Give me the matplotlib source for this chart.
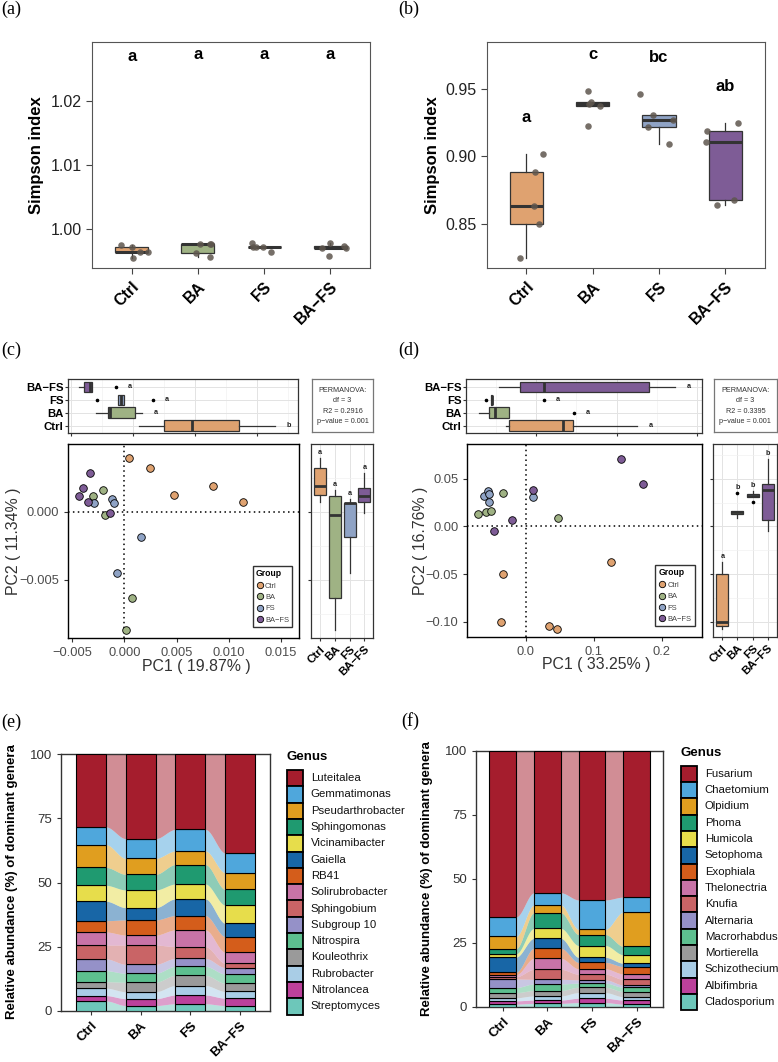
import numpy as np
import matplotlib
matplotlib.use('Agg')
import matplotlib.pyplot as plt
from matplotlib.patches import Rectangle
from matplotlib.lines import Line2D
from matplotlib.ticker import FuncFormatter, MultipleLocator

plt.rcParams['font.family'] = ['Liberation Sans', 'DejaVu Sans']

W, H = 778, 1062
fig = plt.figure(figsize=(W / 100, H / 100), dpi=100)


def rect(l, t, r, b):
    return [l / W, 1 - b / H, (r - l) / W, (b - t) / H]


groups = ['Ctrl', 'BA', 'FS', 'BA−FS']
grp_colors = ['#DFA270', '#9FB284', '#8FA3C5', '#7E5C96']

# ---- (a) / (b) Simpson index, one list per group
simpson_a = [[0.99750, 0.99723, 0.99552, 0.99645, 0.99645],
             [0.99768, 0.99765, 0.99760, 0.99630, 0.99567],
             [0.99776, 0.99723, 0.99722, 0.99645, 0.99720],
             [0.99776, 0.99708, 0.99583, 0.99740, 0.99708]]
jitter_a = [[-0.16, 0.0, 0.015, 0.12, 0.24],
            [0.20, 0.18, 0.03, -0.03, 0.18],
            [-0.18, -0.17, -0.015, 0.11, -0.12],
            [0.0, -0.13, -0.015, 0.20, 0.23]]
letters_a = ['a', 'a', 'a', 'a']

simpson_b = [[0.8247, 0.9017, 0.8881, 0.8629, 0.8500],
             [0.9488, 0.9406, 0.9376, 0.9227, 0.9391],
             [0.9461, 0.9307, 0.9218, 0.9267, 0.9089],
             [0.9188, 0.9104, 0.9245, 0.8639, 0.8676]]
jitter_b = [[-0.09, 0.25, 0.13, 0.12, 0.19],
            [-0.065, -0.03, 0.11, -0.07, -0.05],
            [-0.29, -0.085, -0.16, 0.21, 0.15],
            [-0.28, -0.29, 0.20, -0.12, 0.13]]
letters_b = ['a', 'c', 'bc', 'ab']

# ---- (c) PCoA bacteria
pc1_c = [[0.00046, 0.00245, 0.00854, 0.00476, 0.01142],
         [-0.00204, -0.00300, -0.00188, 0.00069, 0.00014],
         [-0.00124, -0.00104, -0.00290, 0.00156, -0.00072],
         [-0.00332, -0.00402, -0.00435, -0.00348, -0.00139]]
pc2_c = [[0.00399, 0.00320, 0.00189, 0.00123, 0.00074],
         [0.00160, 0.00115, -0.00025, -0.00635, -0.00869],
         [0.00098, 0.00066, 0.00069, -0.00185, -0.00450],
         [0.00283, 0.00179, 0.00120, 0.00076, -0.00007]]
top_letters_c = ['b', 'a', 'a', 'a']
right_letters_c = ['a', 'a', 'a', 'a']
perm_c = ['PERMANOVA:', 'df = 3', 'R2 = 0.2916', 'p−value = 0.001']

# ---- (d) PCoA fungi
pc1_d = [[-0.0332, -0.0370, 0.0332, 0.0458, 0.1253],
         [-0.0332, -0.0706, -0.0589, -0.0512, 0.0472],
         [0.0098, -0.0624, -0.0560, -0.0550, -0.0545],
         [0.1399, 0.1725, 0.0098, -0.0205, -0.0468]]
pc2_d = [[-0.0500, -0.1002, -0.1044, -0.1079, -0.0377],
         [0.0356, 0.0128, 0.0156, 0.0166, 0.0086],
         [0.0314, 0.0324, 0.0374, 0.0342, 0.0261],
         [0.0707, 0.0447, 0.0384, 0.0068, -0.0047]]
top_letters_d = ['a', 'a', 'a', 'a']
right_letters_d = ['a', 'b', 'b', 'b']
perm_d = ['PERMANOVA:', 'df = 3', 'R2 = 0.3395', 'p−value = 0.001']

# ---- (e) / (f) dominant genera (legend order, top of stack first)
genus_colors = ['#A51D2D', '#4FA7DC', '#E09E1F', '#1F9A70', '#E7DD4B', '#1866A6',
                '#D45D1B', '#C873A7', '#C96466', '#9591C8', '#5DBF8F', '#9A9A9A',
                '#A9CDE6', '#BC419B', '#6DC7BA']
bac_genera = ['Luteitalea', 'Gemmatimonas', 'Pseudarthrobacter', 'Sphingomonas',
              'Vicinamibacter', 'Gaiella', 'RB41', 'Solirubrobacter', 'Sphingobium',
              'Subgroup 10', 'Nitrospira', 'Kouleothrix', 'Rubrobacter', 'Nitrolancea',
              'Streptomyces']
bac_ctrl = [28.3, 6.9, 8.9, 7.0, 6.2, 7.6, 4.4, 5.1, 5.4, 4.6, 4.3, 2.5, 2.9, 2.1, 3.8]
bac_ba = [32.9, 7.7, 6.2, 6.1, 6.9, 4.8, 5.9, 3.9, 7.5, 3.5, 3.5, 3.7, 2.7, 2.7, 2.0]
bac_fs = [29.3, 8.4, 5.3, 7.6, 5.8, 6.5, 5.6, 6.5, 4.6, 3.1, 3.5, 4.0, 3.7, 3.4, 2.7]
bac_bafs = [38.5, 7.7, 6.5, 6.1, 7.1, 5.2, 6.1, 4.3, 1.7, 2.5, 3.6, 3.2, 2.6, 2.9, 2.0]

fun_genera = ['Fusarium', 'Chaetomium', 'Olpidium', 'Phoma', 'Humicola', 'Setophoma',
              'Exophiala', 'Thelonectria', 'Knufia', 'Alternaria', 'Macrorhabdus',
              'Mortierella', 'Schizothecium', 'Albifimbria', 'Cladosporium']
fun_ctrl = [64.9, 7.6, 4.8, 2.0, 1.3, 5.9, 1.0, 0.8, 0.9, 3.3, 2.0, 2.0, 1.2, 1.3, 1.0]
fun_ba = [55.5, 4.8, 3.0, 6.1, 3.9, 3.9, 3.9, 4.3, 3.9, 1.8, 2.6, 2.1, 1.6, 1.3, 1.3]
fun_fs = [58.3, 11.5, 2.0, 4.3, 4.6, 2.0, 2.5, 2.1, 2.2, 1.3, 1.6, 2.1, 2.2, 1.7, 1.6]
fun_bafs = [57.2, 5.9, 13.3, 3.3, 3.3, 1.3, 2.9, 2.1, 2.2, 0.9, 1.7, 2.0, 1.3, 1.6, 1.0]

DARK = '#333333'
pos = np.arange(1, 5)


def minus(fmt):
    return FuncFormatter(lambda v, p: (fmt % v).replace('-', '−'))


def simpson_panel(ax, values, jitter, letters, offset, ylim, yticks):
    bp = ax.boxplot(values, positions=pos, widths=0.5, patch_artist=True,
                    showfliers=False, showcaps=False,
                    medianprops=dict(color=DARK, lw=2.2),
                    whiskerprops=dict(color=DARK, lw=0.9),
                    boxprops=dict(edgecolor=DARK, lw=0.9))
    for patch, c in zip(bp['boxes'], grp_colors):
        patch.set_facecolor(c)
    for i, (v, j) in enumerate(zip(values, jitter)):
        ax.scatter(pos[i] + np.array(j), v, s=22, color='#5E564E', alpha=0.85,
                   lw=0, zorder=3)
        ax.text(pos[i], max(v) + offset, letters[i], ha='center', va='center',
                fontsize=12, fontweight='bold')
    ax.set_xlim(0.4, 4.6)
    ax.set_ylim(*ylim)
    ax.set_yticks(yticks)
    ax.yaxis.set_major_formatter(minus('%.2f'))
    ax.set_xticks(pos)
    ax.set_xticklabels(groups, rotation=45, ha='right', va='top',
                       rotation_mode='anchor', fontsize=11.5, fontweight='bold')
    ax.tick_params(axis='y', labelsize=11.5, labelcolor='#222222', length=4,
                   color='#444444', width=0.8)
    ax.tick_params(axis='x', length=4, color='#444444', width=0.8, pad=4)
    for s in ax.spines.values():
        s.set_color('#555555')
        s.set_linewidth(0.8)


ax_a = fig.add_axes(rect(92, 42, 370, 268))
simpson_panel(ax_a, simpson_a, jitter_a, letters_a, 0.0295, (0.9939, 1.0292),
              [1.00, 1.01, 1.02])
ax_b = fig.add_axes(rect(486.7, 42, 765, 268))
simpson_panel(ax_b, simpson_b, jitter_b, letters_b, 0.027, (0.8171, 0.9849),
              [0.85, 0.90, 0.95])
fig.text(36 / W, 1 - 155 / H, 'Simpson index', rotation=90, ha='center',
         va='center', fontsize=12, fontweight='bold')
fig.text(433 / W, 1 - 155 / H, 'Simpson index', rotation=90, ha='center',
         va='center', fontsize=12, fontweight='bold')


def grid_style(ax):
    ax.set_axisbelow(True)
    ax.grid(True, which='major', color='#E3E3E3', lw=0.7)
    ax.grid(True, which='minor', color='#F1F1F1', lw=0.5)
    for s in ax.spines.values():
        s.set_color(DARK)
        s.set_linewidth(0.9)


def box_common(ax, data, orient, width):
    bp = ax.boxplot(data, positions=pos, widths=width, patch_artist=True,
                    orientation=orient, showcaps=False,
                    medianprops=dict(color=DARK, lw=2.0),
                    whiskerprops=dict(color=DARK, lw=0.9),
                    boxprops=dict(edgecolor=DARK, lw=0.9),
                    flierprops=dict(marker='o', markersize=1.6, markerfacecolor='black',
                                    markeredgecolor='black'))
    for patch, c in zip(bp['boxes'], grp_colors):
        patch.set_facecolor(c)


def pcoa_panel(L, pc1, pc2, xlim_top, xticks_top, xlim, xticks, xfmt, ylim, yticks,
               yfmt, top_letters, right_letters, perm, xlab, ylab, xlab_pos, ylab_x):
    # top marginal box
    ax_t = fig.add_axes(rect(*L['top']))
    box_common(ax_t, pc1, 'horizontal', 0.8)
    ax_t.set_xlim(*xlim_top)
    ax_t.set_ylim(0.4, 4.6)
    ax_t.set_xticks(xticks_top)
    step = xticks_top[1] - xticks_top[0]
    ax_t.xaxis.set_minor_locator(MultipleLocator(step / 2))
    ax_t.tick_params(axis='x', which='both', labelbottom=False, length=2, color=DARK)
    ax_t.tick_params(axis='x', which='minor', length=0)
    ax_t.set_yticks(pos)
    ax_t.set_yticklabels(groups, fontsize=8.2, fontweight='bold')
    ax_t.tick_params(axis='y', length=2, pad=1, color=DARK)
    grid_style(ax_t)
    for i, v in enumerate(pc1):
        ax_t.annotate(top_letters[i], (max(v), pos[i]), xytext=(10, 0),
                      textcoords='offset points', ha='center', va='center',
                      fontsize=5.2, fontweight='bold', color='#222222')

    # permanova box
    ax_p = fig.add_axes(rect(*L['perm']))
    ax_p.set_xticks([])
    ax_p.set_yticks([])
    for s in ax_p.spines.values():
        s.set_color('#777777')
        s.set_linewidth(0.9)
    for k, line in enumerate(perm):
        ax_p.text(0.5, 0.79 - k * 0.2, line, ha='center', va='center', fontsize=5.2,
                  color='#333333', transform=ax_p.transAxes)

    # main scatter
    ax = fig.add_axes(rect(*L['main']))
    for i in range(4):
        ax.scatter(pc1[i], pc2[i], s=30, color=grp_colors[i], edgecolor='black',
                   lw=0.6, zorder=3)
    ax.axvline(0, color='black', ls=(0, (1, 2.2)), lw=1.1, zorder=1)
    ax.axhline(0, color='black', ls=(0, (1, 2.2)), lw=1.1, zorder=1)
    ax.set_xlim(*xlim)
    ax.set_ylim(*ylim)
    ax.set_xticks(xticks)
    ax.set_yticks(yticks)
    ax.xaxis.set_major_formatter(minus(xfmt))
    ax.yaxis.set_major_formatter(minus(yfmt))
    ax.tick_params(labelsize=9.3, labelcolor='#4D4D4D', length=3, color=DARK)
    for s in ax.spines.values():
        s.set_color('black')
        s.set_linewidth(1.0)
    handles = [Line2D([], [], marker='o', ls='', markersize=4.6, markerfacecolor=c,
                      markeredgecolor='black', markeredgewidth=0.6)
               for c in grp_colors]
    leg = ax.legend(handles, groups, title='Group', loc='lower right',
                    bbox_to_anchor=(0.97, 0.057), borderaxespad=0, fontsize=5.4,
                    title_fontproperties={'weight': 'bold', 'size': 6.2},
                    frameon=True, fancybox=False, edgecolor='black',
                    labelspacing=0.55, handletextpad=0.2, handlelength=1.0,
                    borderpad=0.45, alignment='left')
    leg.get_frame().set_linewidth(1.0)
    for t in leg.get_texts():
        t.set_color('#444444')
    fig.text(xlab_pos[0] / W, 1 - xlab_pos[1] / H, xlab, ha='center', va='center',
             fontsize=11.4, color='#333333')
    fig.text(ylab_x / W, 1 - ((L['main'][1] + L['main'][3]) / 2) / H, ylab,
             rotation=90, ha='center', va='center', fontsize=11.4, color='#333333')

    # right marginal box
    ax_r = fig.add_axes(rect(*L['right']))
    box_common(ax_r, pc2, 'vertical', 0.8)
    ax_r.set_ylim(*ylim)
    ax_r.set_xlim(0.4, 4.6)
    ax_r.set_yticks(yticks)
    ax_r.tick_params(axis='y', labelleft=False, length=2, color=DARK)
    ax_r.set_xticks(pos)
    ax_r.set_xticklabels(groups, rotation=45, ha='right', va='top',
                         rotation_mode='anchor', fontsize=8.2, fontweight='bold')
    ax_r.tick_params(axis='x', length=2, pad=2, color=DARK)
    ystep = yticks[1] - yticks[0]
    ax_r.yaxis.set_minor_locator(MultipleLocator(ystep / 2))
    ax_r.tick_params(axis='y', which='minor', length=0)
    grid_style(ax_r)
    for i, v in enumerate(pc2):
        ax_r.annotate(right_letters[i], (pos[i], max(v)), xytext=(0, 4),
                      textcoords='offset points', ha='center', va='center',
                      fontsize=5.2, fontweight='bold', color='#222222')


pcoa_panel(dict(top=(67.7, 379, 298.3, 433.3), perm=(311.7, 379, 373.3, 431.7),
                main=(68.3, 444, 299.3, 638.3), right=(311, 444, 373.3, 638.3)),
           pc1_c, pc2_c, (-0.0053, 0.0133), [-0.005, 0.0, 0.005, 0.010],
           (-0.0054, 0.0168), [-0.005, 0.0, 0.005, 0.010, 0.015], '%.3f',
           (-0.0093, 0.0050), [-0.005, 0.0], '%.3f',
           top_letters_c, right_letters_c, perm_c,
           'PC1 ( 19.87% )', 'PC2 ( 11.34% )', (196, 667), 14)

pcoa_panel(dict(top=(466, 379, 701.7, 433.3), perm=(714, 379, 776.7, 431.7),
                main=(467.3, 444, 701.7, 637.3), right=(713.3, 444, 776.7, 637.3)),
           pc1_d, pc2_d, (-0.0872, 0.2056), [0.0, 0.1, 0.2],
           (-0.0863, 0.2584), [0.0, 0.1, 0.2], '%.1f',
           (-0.1166, 0.0868), [-0.10, -0.05, 0.0, 0.05], '%.2f',
           top_letters_d, right_letters_d, perm_d,
           'PC1 ( 33.25% )', 'PC2 ( 16.76% )', (596, 665), 420)


def genus_legend(names, x, y_title, y_top, row=16.3):
    fig.text(x / W, 1 - y_title / H, 'Genus', ha='left', va='center', fontsize=9.5,
             fontweight='bold')
    for k, (n, c) in enumerate(zip(names, genus_colors)):
        top = y_top + k * row
        fig.add_artist(Rectangle(((x + 0.7) / W, 1 - (top + row) / H), 15.4 / W,
                                 row / H, transform=fig.transFigure, facecolor=c,
                                 edgecolor='black', lw=1.3))
        fig.text((x + 24) / W, 1 - (top + row / 2) / H, n, ha='left', va='center',
                 fontsize=8.2, color='#111111')


def alluvial(ax, table):
    vals = np.array(table, dtype=float).T[::-1]      # genus x group, bottom first
    cols = genus_colors[::-1]
    tops = np.cumsum(vals, axis=0)
    bottoms = tops - vals
    w = 0.6
    t = np.linspace(0, 1, 80)
    s = t * t * (3 - 2 * t)
    for k in range(vals.shape[0]):
        for i in range(3):
            x0, x1 = pos[i] + w / 2, pos[i + 1] - w / 2
            xs = x0 + (x1 - x0) * t
            lo = bottoms[k, i] + (bottoms[k, i + 1] - bottoms[k, i]) * s
            hi = tops[k, i] + (tops[k, i + 1] - tops[k, i]) * s
            ax.fill_between(xs, lo, hi, color=cols[k], alpha=0.5, lw=0)
        ax.bar(pos, vals[k], bottom=bottoms[k], width=w, color=cols[k],
               edgecolor='black', lw=0.8, zorder=3)
    ax.set_xlim(0.4, 4.6)
    ax.set_ylim(0, 100)
    ax.set_yticks([0, 25, 50, 75, 100])
    ax.tick_params(axis='y', labelsize=9.5, labelcolor='#333333', length=3, color=DARK)
    ax.set_xticks(pos)
    ax.set_xticklabels(groups, rotation=45, ha='right', va='top',
                       rotation_mode='anchor', fontsize=9.5, fontweight='bold')
    ax.tick_params(axis='x', length=3, color=DARK)
    for sp in ax.spines.values():
        sp.set_color(DARK)
        sp.set_linewidth(1.0)


ax_e = fig.add_axes(rect(61, 754.3, 270, 1010.7))
alluvial(ax_e, [bac_ctrl, bac_ba, bac_fs, bac_bafs])
genus_legend(bac_genera, 286.7, 757.3, 770)
ax_f = fig.add_axes(rect(476, 750.7, 663.3, 1006.7))
alluvial(ax_f, [fun_ctrl, fun_ba, fun_fs, fun_bafs])
genus_legend(fun_genera, 680.7, 753.3, 765.7)
ylab = 'Relative abundance (%) of dominant genera'
fig.text(12.5 / W, 1 - 882 / H, ylab, rotation=90, ha='center', va='center',
         fontsize=9.5, fontweight='bold')
fig.text(426.7 / W, 1 - 879 / H, ylab, rotation=90, ha='center', va='center',
         fontsize=9.5, fontweight='bold')

# panel tags
for tag, x, y in [('(a)', 1, 9), ('(b)', 398, 9), ('(c)', 1, 350), ('(d)', 398, 350),
                  ('(e)', 1, 722), ('(f)', 401, 721)]:
    fig.text(x / W, 1 - y / H, tag, ha='left', va='center', fontsize=13,
             family='Liberation Serif')

fig.savefig('out.png', dpi=100)
